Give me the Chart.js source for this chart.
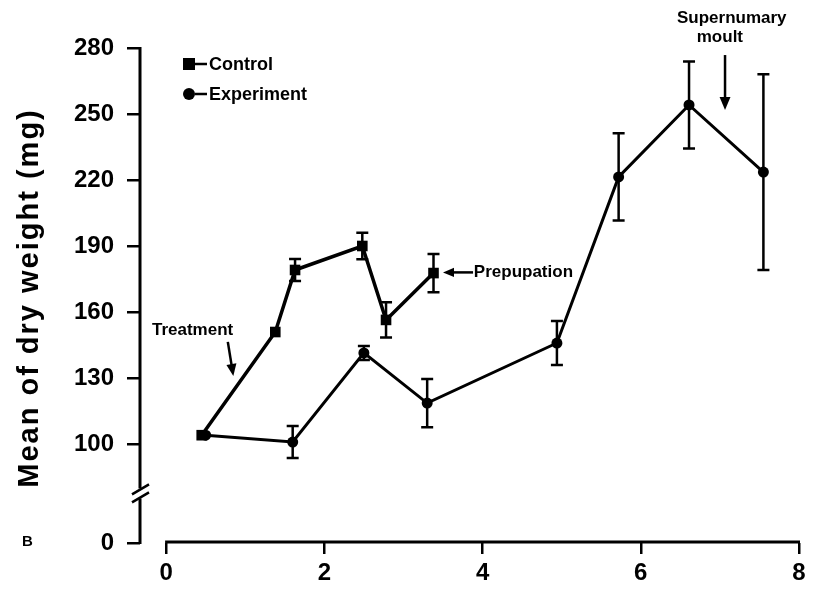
<!DOCTYPE html>
<html>
<head>
<meta charset="utf-8">
<script src="https://cdn.jsdelivr.net/npm/chart.js@4.4.0/dist/chart.umd.min.js"></script>
<style>
  html, body { margin: 0; padding: 0; background: #fff; }
  #wrap { width: 814px; height: 592px; position: relative; }
</style>
</head>
<body>
<div id="wrap"><canvas id="chart"></canvas></div>
<script>
// Control series (squares)
const controlX = [0.45, 1.38, 1.63, 2.48, 2.78, 3.38];
const controlY = [104, 150.9, 179.1, 190, 156.4, 177.7];
const controlErr = [0, 0, 5, 6, 8, 8.7];

// Experiment series (circles)
const experimentX = [0.5, 1.6, 2.5, 3.3, 4.94, 5.72, 6.61, 7.55];
const experimentY = [104, 100.9, 141.4, 118.6, 145.9, 221.4, 254.1, 223.6];
const experimentErr = [0, 7.3, 3.2, 11, 10, 19.8, 19.8, 44.5];

// Tick labels
const xTicks = [0, 2, 4, 6, 8];
const yTicks = [0, 100, 130, 160, 190, 220, 250, 280];

// The y axis is broken: the "0" tick sits at yFloor on the scale
const yFloor = 55;
const yBreak = 78;

const FONT = '"Liberation Sans", Arial, Helvetica, sans-serif';
const INK = '#000';

/**
 * Draw a line with a filled arrow head at (x2, y2)
 */
function drawArrow(ctx, x1, y1, x2, y2, head) {
  const a = Math.atan2(y2 - y1, x2 - x1);
  const c = Math.cos(a), s = Math.sin(a);
  ctx.beginPath();
  ctx.moveTo(x1, y1);
  ctx.lineTo(x2 - c * head * 0.8, y2 - s * head * 0.8);
  ctx.stroke();
  ctx.beginPath();
  ctx.moveTo(x2, y2);
  ctx.lineTo(x2 - head * c + head * 0.42 * s, y2 - head * s - head * 0.42 * c);
  ctx.lineTo(x2 - head * c - head * 0.42 * s, y2 - head * s + head * 0.42 * c);
  ctx.closePath();
  ctx.fill();
}

// Error bars for both series
const errorBars = {
  id: 'errorBars',
  afterDatasetsDraw(chart) {
    const ctx = chart.ctx;
    const xs = chart.scales.x, ys = chart.scales.y;
    ctx.save();
    ctx.strokeStyle = INK;
    ctx.lineWidth = 2.5;
    chart.data.datasets.forEach(ds => {
      ds.data.forEach((p, i) => {
        const e = ds.errors[i];
        if (!e) return;
        const px = xs.getPixelForValue(p.x);
        const top = ys.getPixelForValue(p.y + e);
        const bot = ys.getPixelForValue(p.y - e);
        ctx.beginPath();
        ctx.moveTo(px, top); ctx.lineTo(px, bot);
        ctx.moveTo(px - 6, top); ctx.lineTo(px + 6, top);
        ctx.moveTo(px - 6, bot); ctx.lineTo(px + 6, bot);
        ctx.stroke();
      });
    });
    ctx.restore();
  }
};

// Axis lines, break marks, title, legend and notes
const decorations = {
  id: 'decorations',
  afterDraw(chart) {
    const ctx = chart.ctx;
    const area = chart.chartArea;
    const xs = chart.scales.x, ys = chart.scales.y;
    ctx.save();
    ctx.strokeStyle = INK;
    ctx.fillStyle = INK;
    ctx.lineCap = 'butt';

    // y axis with a break
    const ax = area.left;
    const yb = ys.getPixelForValue(yBreak);
    ctx.lineWidth = 3;
    ctx.beginPath();
    ctx.moveTo(ax, area.top - 1);
    ctx.lineTo(ax, yb - 4);
    ctx.moveTo(ax, yb + 6);
    ctx.lineTo(ax, area.bottom + 1);
    ctx.stroke();
    ctx.lineWidth = 2.5;
    ctx.beginPath();
    ctx.moveTo(ax - 8, yb + 2); ctx.lineTo(ax + 9, yb - 8);
    ctx.moveTo(ax - 8, yb + 10); ctx.lineTo(ax + 9, yb);
    ctx.stroke();

    // x axis, starting at x = 0
    ctx.lineWidth = 3;
    ctx.beginPath();
    ctx.moveTo(xs.getPixelForValue(xTicks[0]) - 1, area.bottom - 1);
    ctx.lineTo(xs.getPixelForValue(xTicks[xTicks.length - 1]) + 1, area.bottom - 1);
    ctx.stroke();

    // y axis title
    ctx.save();
    ctx.translate(30, 298);
    ctx.rotate(-Math.PI / 2);
    ctx.font = 'bold 29px ' + FONT;
    ctx.letterSpacing = '2px';
    ctx.textAlign = 'center';
    ctx.textBaseline = 'middle';
    ctx.fillText('Mean of dry weight (mg)', 0, 0);
    ctx.restore();

    // panel letter
    ctx.font = 'bold 15px ' + FONT;
    ctx.textAlign = 'left';
    ctx.textBaseline = 'middle';
    ctx.fillText('B', 22, 542);

    // legend
    const lx = area.left + 49, ly = area.top + 16;
    ctx.fillRect(lx - 6, ly - 6, 12, 12);
    ctx.beginPath();
    ctx.arc(lx, ly + 30, 6, 0, Math.PI * 2);
    ctx.fill();
    ctx.lineWidth = 2.5;
    ctx.beginPath();
    ctx.moveTo(lx + 6, ly); ctx.lineTo(lx + 18, ly);
    ctx.moveTo(lx + 6, ly + 30); ctx.lineTo(lx + 18, ly + 30);
    ctx.stroke();
    ctx.font = 'bold 18px ' + FONT;
    ctx.fillText('Control', lx + 20, ly + 1);
    ctx.fillText('Experiment', lx + 20, ly + 31);

    // annotations (data coordinates)
    const X = v => xs.getPixelForValue(v);
    const Y = v => ys.getPixelForValue(v);
    ctx.font = 'bold 17px ' + FONT;
    ctx.lineWidth = 2.5;

    ctx.textAlign = 'center';
    ctx.fillText('Treatment', X(0.335), Y(151.8));
    drawArrow(ctx, X(0.78), Y(146.4), X(0.85), Y(130.9), 12);

    ctx.textAlign = 'left';
    ctx.fillText('Prepupation', X(3.89), Y(178));
    drawArrow(ctx, X(3.88), Y(178), X(3.5), Y(178), 11);

    ctx.textAlign = 'center';
    ctx.fillText('Supernumary', X(7.15), Y(293.6));
    ctx.fillText('moult', X(7.0), Y(285));
    drawArrow(ctx, X(7.065), Y(276.8), X(7.065), Y(251.8), 13);

    ctx.restore();
  }
};

const tickFont = { family: FONT, size: 24, weight: 'bold' };

new Chart(document.getElementById('chart'), {
  type: 'scatter',
  data: {
    datasets: [
      {
        label: 'Control',
        data: controlX.map((x, i) => ({ x: x, y: controlY[i] })),
        errors: controlErr,
        showLine: true,
        borderColor: INK,
        backgroundColor: INK,
        borderWidth: 3.5,
        pointStyle: 'rect',
        pointRadius: 7.5,
        pointBorderWidth: 0
      },
      {
        label: 'Experiment',
        data: experimentX.map((x, i) => ({ x: x, y: experimentY[i] })),
        errors: experimentErr,
        showLine: true,
        borderColor: INK,
        backgroundColor: INK,
        borderWidth: 3,
        pointStyle: 'circle',
        pointRadius: 5.5,
        pointBorderWidth: 0
      }
    ]
  },
  options: {
    responsive: true,
    maintainAspectRatio: false,
    animation: false,
    layout: { padding: { top: 48, right: 15, left: 0, bottom: 0 } },
    plugins: {
      legend: { display: false },
      tooltip: { enabled: false }
    },
    scales: {
      x: {
        type: 'linear',
        min: -0.33,
        max: 8,
        afterBuildTicks: scale => { scale.ticks = xTicks.map(v => ({ value: v })); },
        afterFit: scale => { scale.height = 49; },
        border: { display: false },
        grid: {
          drawOnChartArea: false,
          drawTicks: true,
          tickLength: 11,
          lineWidth: 2.5,
          color: INK
        },
        ticks: {
          color: INK,
          font: tickFont,
          padding: 5,
          maxRotation: 0
        }
      },
      y: {
        type: 'linear',
        min: yFloor,
        max: 280,
        afterBuildTicks: scale => {
          scale.ticks = yTicks.map(v => ({ value: v === 0 ? yFloor : v }));
        },
        afterFit: scale => { scale.width = 140; },
        border: { display: false },
        grid: {
          drawOnChartArea: false,
          drawTicks: true,
          tickLength: 13,
          lineWidth: 2.5,
          color: INK
        },
        ticks: {
          color: INK,
          font: tickFont,
          padding: 13,
          callback: v => (v === yFloor ? '0' : String(v))
        }
      }
    }
  },
  plugins: [errorBars, decorations]
});
</script>
</body>
</html>
